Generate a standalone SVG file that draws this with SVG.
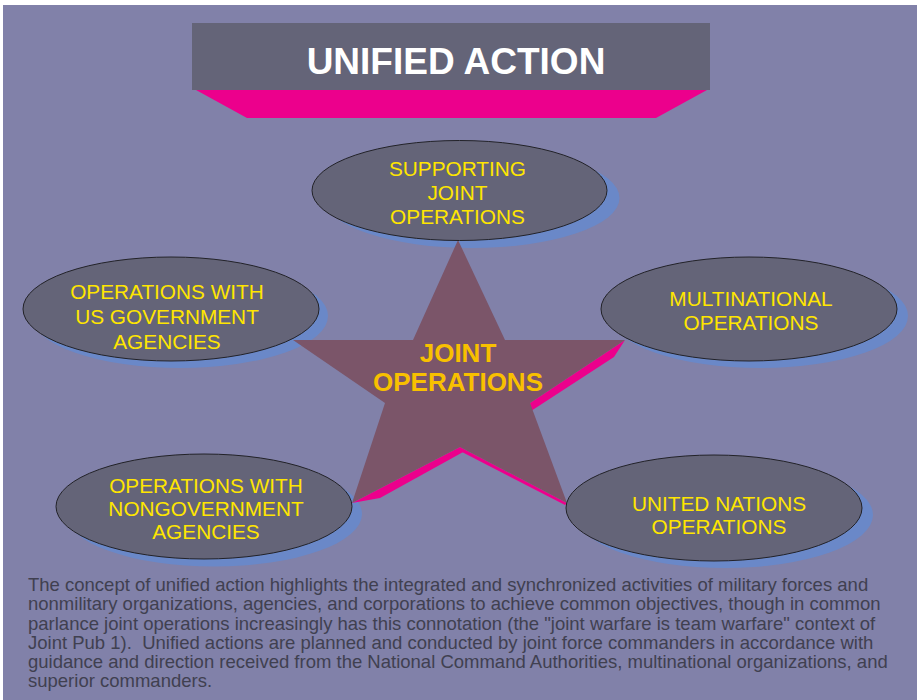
<svg xmlns="http://www.w3.org/2000/svg" width="917" height="700" viewBox="0 0 917 700">
<style>
.bg{fill:#8181A9}
.oval{fill:#646478;stroke:#222228;stroke-width:1}
.shadow{fill:#6A88C8}
.lbl{font-family:"Liberation Sans",Arial,sans-serif;font-size:20.8px;fill:#FFE600;text-anchor:middle}
.star{fill:#7B5569}
.pink{fill:#EC008C}
.body{font-family:"Liberation Sans",Arial,sans-serif;font-size:18.5px;fill:#404050}
</style>
<rect x="0" y="0" width="917" height="700" fill="#FFFFFF"/>
<rect class="bg" x="3" y="5" width="914" height="695"/>

<g id="title">
  <polygon class="pink" points="196,90 707,90 656,118 247,118"/>
  <rect x="192" y="23" width="518" height="67" fill="#646478"/>
  <text x="456" y="74" font-family="Liberation Sans, Arial, sans-serif" font-size="37" font-weight="bold" fill="#FFFFFF" text-anchor="middle">UNIFIED ACTION</text>
</g>

<g id="shadows">
  <ellipse class="shadow" cx="472" cy="198" rx="147.5" ry="50"/>
  <ellipse class="shadow" cx="180" cy="316" rx="148" ry="52"/>
  <ellipse class="shadow" cx="760" cy="316" rx="148" ry="52"/>
  <ellipse class="shadow" cx="214" cy="514" rx="148" ry="52.5"/>
  <ellipse class="shadow" cx="725" cy="515" rx="148" ry="53"/>
</g>

<g id="joint-operations">
  <polygon class="pink" points="625,340 530,403 531,411 614,357"/>
  <polygon class="pink" points="352,503 460,447 465,451 380,498"/>
  <polygon class="pink" points="460,447 567,503 565,505 462,452"/>
  <polygon class="star" points="458,240 505,340 625,340 530,403 567,503 460,447 352,503 385,403 293,340 413,340"/>
  <text font-family="Liberation Sans, Arial, sans-serif" font-size="26" font-weight="bold" fill="#F8C000" text-anchor="middle"><tspan x="458" y="362">JOINT</tspan><tspan x="458" y="391">OPERATIONS</tspan></text>
</g>

<g id="supporting">
  <ellipse class="oval" cx="459.5" cy="190.5" rx="147.5" ry="50"/>
  <text class="lbl"><tspan x="457.5" y="176">SUPPORTING</tspan><tspan x="457.5" y="200">JOINT</tspan><tspan x="457.5" y="224">OPERATIONS</tspan></text>
</g>
<g id="us-government">
  <ellipse class="oval" cx="171" cy="309" rx="148" ry="52"/>
  <text class="lbl"><tspan x="167" y="299">OPERATIONS WITH</tspan><tspan x="167" y="324">US GOVERNMENT</tspan><tspan x="167" y="349">AGENCIES</tspan></text>
</g>
<g id="multinational">
  <ellipse class="oval" cx="749" cy="309" rx="148" ry="52"/>
  <text class="lbl"><tspan x="751" y="306">MULTINATIONAL</tspan><tspan x="751" y="330">OPERATIONS</tspan></text>
</g>
<g id="nongovernment">
  <ellipse class="oval" cx="204" cy="506.5" rx="148" ry="52.5"/>
  <text class="lbl"><tspan x="206" y="493">OPERATIONS WITH</tspan><tspan x="206" y="516">NONGOVERNMENT</tspan><tspan x="206" y="539">AGENCIES</tspan></text>
</g>
<g id="united-nations">
  <ellipse class="oval" cx="714" cy="508" rx="148" ry="53"/>
  <text class="lbl"><tspan x="719" y="511">UNITED NATIONS</tspan><tspan x="719" y="534">OPERATIONS</tspan></text>
</g>

<g id="connectors"></g>

<text class="body" xml:space="preserve"><tspan x="28" y="591">The concept of unified action highlights the integrated and synchronized activities of military forces and</tspan><tspan x="28" y="610.3">nonmilitary organizations, agencies, and corporations to achieve common objectives, though in common</tspan><tspan x="28" y="629.6">parlance joint operations increasingly has this connotation (the "joint warfare is team warfare" context of</tspan><tspan x="28" y="649">Joint Pub 1).  Unified actions are planned and conducted by joint force commanders in accordance with</tspan><tspan x="28" y="668">guidance and direction received from the National Command Authorities, multinational organizations, and</tspan><tspan x="28" y="687">superior commanders.</tspan></text>
</svg>
